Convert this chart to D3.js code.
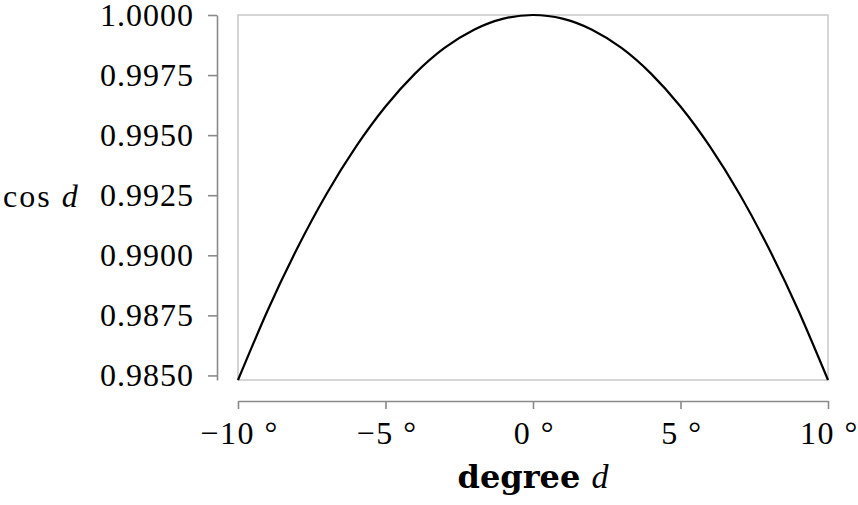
<!DOCTYPE html>
<html>
<head>
<meta charset="utf-8">
<script src="https://cdn.jsdelivr.net/npm/d3@7"></script>
<style>
  body { margin: 0; background: #fff; }
  text { font-family: "Liberation Serif", "DejaVu Serif", serif; fill: #000; }
</style>
</head>
<body>
<div id="chart"></div>
<script>
// degrees and cos values
const degrees = [-10, -9, -8, -7, -6, -5, -4, -3, -2, -1, 0, 1, 2, 3, 4, 5, 6, 7, 8, 9, 10];
const cosValues = [0.98481, 0.98769, 0.99027, 0.99255, 0.99452, 0.99619, 0.99756, 0.99863, 0.99939, 0.99985, 1.0000,
                   0.99985, 0.99939, 0.99863, 0.99756, 0.99619, 0.99452, 0.99255, 0.99027, 0.98769, 0.98481];
const yTicks = [0.985, 0.9875, 0.99, 0.9925, 0.995, 0.9975, 1.0];
const xTicks = [-10, -5, 0, 5, 10];

const width = 858, height = 505;
const plot = { left: 238, right: 828, top: 15, bottom: 380 };

const svg = d3.select("#chart").append("svg")
  .attr("width", width)
  .attr("height", height);

const x = d3.scaleLinear()
  .domain([-10, 10])
  .range([plot.left, plot.right]);

const y = d3.scaleLinear()
  .domain([d3.min(cosValues), d3.max(cosValues)])
  .range([plot.bottom, plot.top]);

// frame
svg.append("rect")
  .attr("x", plot.left)
  .attr("y", plot.top)
  .attr("width", plot.right - plot.left)
  .attr("height", plot.bottom - plot.top)
  .attr("fill", "none")
  .attr("stroke", "#c8c8c8")
  .attr("stroke-width", 1.5);

// y axis (offset to the left)
const yAxis = svg.append("g")
  .attr("transform", `translate(${plot.left - 21},0)`)
  .call(d3.axisLeft(y).tickValues(yTicks).tickFormat(d3.format(".4f")).tickSize(9).tickSizeOuter(0).tickPadding(14));

// x axis (offset below)
const xAxis = svg.append("g")
  .attr("transform", `translate(0,${plot.bottom + 21})`)
  .call(d3.axisBottom(x).tickValues(xTicks).tickSize(8).tickSizeOuter(0).tickPadding(12)
    .tickFormat(d => (d < 0 ? "\u2212" + Math.abs(d) : d) + " °"));

[yAxis, xAxis].forEach(g => {
  g.select(".domain").attr("stroke", "#8a8a8a").attr("stroke-width", 1.6);
  g.selectAll(".tick line").attr("stroke", "#8a8a8a").attr("stroke-width", 1.6);
  g.selectAll(".tick text")
    .attr("font-family", "Liberation Serif, DejaVu Serif, serif")
    .attr("font-size", 32)
    .attr("letter-spacing", 1)
    .attr("fill", "#000");
});
yAxis.selectAll(".tick text").attr("dy", "0.33em");
xAxis.selectAll(".tick text").attr("letter-spacing", 1.5).attr("dx", 1);

// curve
const line = d3.line()
  .x((d, i) => x(degrees[i]))
  .y(d => y(d))
  .curve(d3.curveNatural);

svg.append("path")
  .datum(cosValues)
  .attr("fill", "none")
  .attr("stroke", "#000")
  .attr("stroke-width", 2.2)
  .attr("d", line);

// axis titles
const yTitle = svg.append("text")
  .attr("x", 3)
  .attr("y", 207)
  .attr("font-size", 32)
  .attr("letter-spacing", 2);
yTitle.append("tspan").text("cos ");
yTitle.append("tspan").attr("font-style", "italic").text("d");

const xTitle = svg.append("text")
  .attr("x", x(0))
  .attr("y", 488)
  .attr("text-anchor", "middle")
  .attr("font-size", 31);
xTitle.append("tspan")
  .attr("font-family", "DejaVu Serif, serif")
  .attr("font-weight", "bold")
  .attr("font-size", 32)
  .text("degree ");
xTitle.append("tspan").attr("font-style", "italic").attr("font-size", 34).text("d");
</script>
</body>
</html>
